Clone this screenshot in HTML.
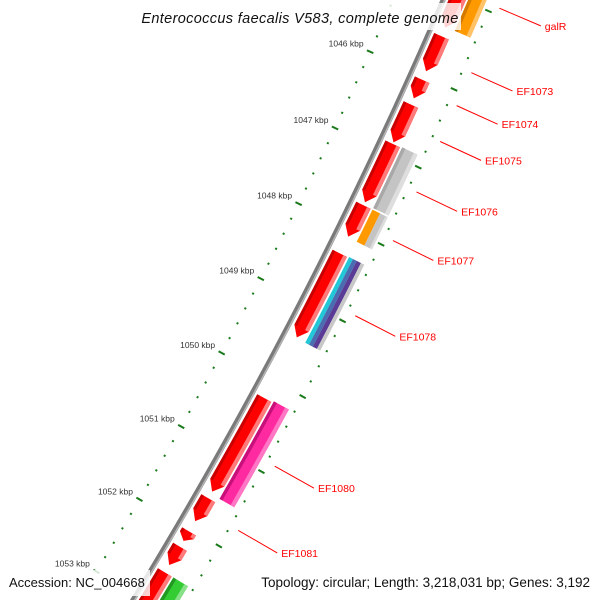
<!DOCTYPE html>
<html><head><meta charset="utf-8"><style>
html,body{margin:0;padding:0;background:#fff;overflow:hidden;width:600px;height:600px}
svg{display:block}
</style></head><body>
<svg id="map" width="600" height="600" viewBox="0 0 600 600" xmlns="http://www.w3.org/2000/svg" font-family="'Liberation Sans', 'DejaVu Sans', sans-serif" overflow="hidden">
<defs><clipPath id="frame"><rect width="600" height="600"/></clipPath></defs>
<rect width="600" height="600" fill="#fff"/>
<g clip-path="url(#frame)">
<g id="ticks"></g>
<g id="backbone"></g>
<g id="features"></g>
<g id="labels"></g>
</g>
<rect x="138" y="3" width="323" height="27" fill="#fff" fill-opacity="0.82"/>
<text x="300" y="23" text-anchor="middle" font-size="14.5" font-style="italic" letter-spacing="0.35" fill="#111">Enterococcus faecalis V583, complete genome</text>
<rect x="4" y="570" width="146" height="26" fill="#fff" fill-opacity="0.82"/>
<text x="9" y="587" font-size="13" fill="#111">Accession: NC_004668</text>
<rect x="256" y="570" width="340" height="26" fill="#fff" fill-opacity="0.82"/>
<text x="590" y="587" text-anchor="end" font-size="13.5" fill="#111">Topology: circular; Length: 3,218,031 bp; Genes: 3,192</text>
</svg>
<script>
// data
const fwdStart = [1044.6, 1045.49, 1046.05, 1046.37, 1046.88, 1047.68, 1048.31, 1050.23, 1051.58, 1052.03, 1052.24, 1052.59];
const fwdEnd   = [1045.38, 1045.94, 1046.29, 1046.86, 1047.64, 1048.09, 1049.42, 1051.49, 1051.89, 1052.16, 1052.49, 1053.3];
const revStart = [1044.5, 1046.87, 1047.68, 1048.30, 1050.21, 1052.59];
const revEnd   = [1045.37, 1047.66, 1048.10, 1049.43, 1051.52, 1053.3];
const revColor = ['orange', 'gray', 'orange-gray', 'cyan-purple', 'pink', 'green'];
const labelNames = ['galR','EF1073','EF1074','EF1075','EF1076','EF1077','EF1078','EF1080','EF1081'];
const labelPos   = [1044.92, 1045.74, 1046.16, 1046.62, 1047.27, 1047.90, 1048.88, 1050.87, 1051.73];
const tickLabels = [1046, 1047, 1048, 1049, 1050, 1051, 1052, 1053];

// axis functions
const CX = -3919, CY = -1875, R = 4748;
const A0 = 24.19, DEG_PER_KBP = 1.0233;
function ang(k){ return (A0 + (k - 1046) * DEG_PER_KBP) * Math.PI / 180; }
function pt(k, r){ const a = ang(k); return [CX + r * Math.cos(a), CY + r * Math.sin(a)]; }
function P(list){ return list.map(p => p[0].toFixed(2) + ',' + p[1].toFixed(2)).join(' '); }
const NS = 'http://www.w3.org/2000/svg';
function mk(tag, attrs, parent){ const e = document.createElementNS(NS, tag); for (const k in attrs) e.setAttribute(k, attrs[k]); parent.appendChild(e); return e; }
function band(k1, k2, r1, r2){
  const a = [], b = [];
  const n = Math.max(2, Math.ceil((k2 - k1) * 4));
  for (let i = 0; i <= n; i++){ const k = k1 + (k2 - k1) * i / n; a.push(pt(k, r1)); b.push(pt(k, r2)); }
  return a.concat(b.reverse());
}

// ticks
const tg = document.getElementById('ticks');
for (let k = 1044.4; k <= 1053.4; k += 0.2){
  const kk = Math.round(k * 10) / 10;
  const major = Math.abs(kk - Math.round(kk)) < 0.01;
  [R - 46, R + 46].forEach((r, side) => {
    const p1 = pt(kk, r - (major ? 3.5 : 1)), p2 = pt(kk, r + (major ? 3.5 : 1));
    const t = mk('line', {x1:p1[0], y1:p1[1], x2:p2[0], y2:p2[1], stroke:'#1a7a1a', 'stroke-width': 2}, tg);
    
    
  });
}
tickLabels.forEach(v => {
  const p = pt(v, R - 46);
  const t = mk('text', {x: p[0] - 24, y: p[1] - 5, 'text-anchor':'middle', 'font-size':'8.5', fill:'#333'}, tg);
  
  
  t.textContent = v + ' kbp';
});

// backbone
const bg = document.getElementById('backbone');
const bb = [];
for (let k = 1044.3; k <= 1053.5; k += 0.25) bb.push(pt(k, R));
let e = mk('polyline', {points: P(bb), fill:'none', stroke:'#7a7a7a', 'stroke-width':5}, bg);


const bb2 = [];
for (let k = 1044.3; k <= 1053.5; k += 0.25) bb2.push(pt(k, R + 1.5));
e = mk('polyline', {points: P(bb2), fill:'none', stroke:'#b5b5b5', 'stroke-width':1.5}, bg);



// forward features (red arrows)
const fg = document.getElementById('features');
const F1 = R + 5, F2 = R + 21, HEAD = 0.12;
fwdStart.forEach((s, i) => {
  const en = fwdEnd[i];
  const h = Math.min(HEAD, (en - s) * 0.6);
  const body = band(s, en - h, F1, F2);
  const half = body.length / 2;
  const poly = body.slice(0, half).concat([pt(en, (F1 + F2) / 2)]).concat(body.slice(half));
  const g = mk('g', {}, fg);
  
  
  mk('polygon', {points: P(poly), fill:'#ff0000'}, g);
  mk('polygon', {points: P(band(s, en - h, F1, F1 + 3)), fill:'#c80000'}, g);
  mk('polygon', {points: P(band(s, en - h, F2 - 4, F2)), fill:'#ff7a7a'}, g);
});

// reverse features
const S1 = R + 23, S2 = R + 40;
const palettes = {
  'orange': [[0,1,'#ff9900'],[0,0.2,'#d47a00'],[0.75,1,'#ffc266']],
  'gray': [[0,1,'#c4c4c4'],[0,0.2,'#a8a8a8'],[0.75,1,'#dedede']],
  'orange-gray': [[0,0.5,'#ff9900'],[0.5,1,'#c4c4c4'],[0.85,1,'#dcdcdc']],
  'cyan-purple': [[0,0.25,'#22c8d8'],[0.25,0.5,'#4a6cb0'],[0.5,0.78,'#5a3c96'],[0.78,1,'#c8c8c8']],
  'pink': [[0,1,'#ff2aa0'],[0,0.2,'#c8107a'],[0.75,1,'#ff77c4']],
  'green': [[0,1,'#33cc33'],[0,0.2,'#229922'],[0.75,1,'#88e088']]
};
revStart.forEach((s, i) => {
  const en = revEnd[i];
  const g = mk('g', {}, fg);
  
  
  palettes[revColor[i]].forEach(b => {
    mk('polygon', {points: P(band(s, en, S1 + (S2 - S1) * b[0], S1 + (S2 - S1) * b[1])), fill: b[2]}, g);
  });
});

// labels
const lg = document.getElementById('labels');
labelNames.forEach((nm, i) => {
  const k = labelPos[i];
  const p1 = pt(k, R + 55), p2 = pt(k, R + 100);
  const l = mk('line', {x1:p1[0], y1:p1[1], x2:p2[0], y2:p2[1], stroke:'#ff0000', 'stroke-width':1}, lg);
  
  
  const t = mk('text', {x: p2[0] + 4, y: p2[1] + 4, 'font-size':'10.5', fill:'#ff0000'}, lg);
  
  
  t.textContent = nm;
});
</script>
</body></html>
